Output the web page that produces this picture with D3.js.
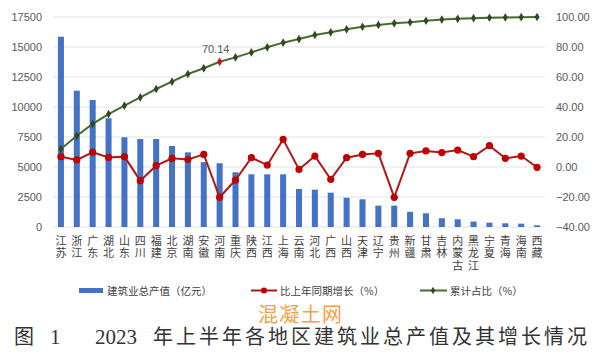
<!DOCTYPE html>
<html><head><meta charset="utf-8">
<script src="https://cdn.jsdelivr.net/npm/d3@7"></script>
<style>
html,body{margin:0;padding:0;background:#fff;}
svg{display:block;}
</style></head>
<body>
<svg id="c" width="600" height="355"></svg>
<script>
const provinces = ["江苏","浙江","广东","湖北","山东","四川","福建","北京","湖南","安徽","河南","重庆","陕西","江西","上海","云南","河北","广西","山西","天津","辽宁","贵州","新疆","甘肃","吉林","内蒙古","黑龙江","宁夏","青海","海南","西藏"];
const outputValues = [15860,11360,10580,9060,7480,7330,7330,6750,6220,5400,5310,4560,4390,4390,4390,3170,3110,2860,2440,2310,1780,1780,1270,1140,730,640,450,360,310,280,140];
const growthValues = [6.9,4.7,9.8,6.4,6.9,-9.1,0.9,5.8,5.0,8.4,-20.2,-8.7,6.2,1.3,18.4,-1.6,7.3,-8.2,6.2,8.4,9.1,-20.2,9.1,10.7,9.6,11.3,6.9,14.2,5.8,7.3,-0.2];
const shareValues = [12.0,20.8,28.7,35.3,40.9,46.4,52.0,56.9,62.0,65.8,70.14,73.1,76.4,79.8,82.9,85.3,88.0,89.8,91.8,93.5,94.7,95.8,96.5,97.5,98.3,98.8,99.2,99.5,99.7,99.9,100.0];
const leftTicks = [0,2500,5000,7500,10000,12500,15000,17500];
const rightTicks = [-40,-20,0,20,40,60,80,100];
const highlightProvince = "河南";
const legendLabels = ["建筑业总产值（亿元）","比上年同期增长（%）","累计占比（%）"];
const watermark = "混凝土网";
const titleParts = ["图","1","2023","年上半年各地区建筑业总产值及其增长情况"];

const svg = d3.select("#c");
const L = 53, R = 545, T = 17, B = 227;
const x = d3.scaleBand().domain(provinces).range([L,R]).paddingInner(0.62).paddingOuter(0.31);
const yL = d3.scaleLinear().domain([0,17500]).range([B,T]);
const yR = d3.scaleLinear().domain([-40,100]).range([B,T]);
const cx = d => x(d) + x.bandwidth()/2;

const numFont = "'Liberation Sans', Arial, sans-serif";
const cjk = "'Noto Sans CJK SC', sans-serif";

// gridlines
svg.append("g").selectAll("line").data(leftTicks).join("line")
  .attr("x1",L).attr("x2",R).attr("y1",d=>yL(d)).attr("y2",d=>yL(d))
  .attr("stroke","#e3e3e3").attr("stroke-width",1);

// left axis
const gl = svg.append("g").attr("transform",`translate(${L},0)`)
  .call(d3.axisLeft(yL).tickValues(leftTicks).tickFormat(d3.format("d")).tickSize(0).tickPadding(11));
gl.select(".domain").remove();
gl.selectAll("text").attr("font-family",numFont).attr("font-size",11).attr("fill","#595959");

// right axis
const gr = svg.append("g").attr("transform",`translate(${R},0)`)
  .call(d3.axisRight(yR).tickValues(rightTicks).tickFormat(d3.format(".2f")).tickSize(0).tickPadding(11));
gr.select(".domain").remove();
gr.selectAll("text").attr("font-family",numFont).attr("font-size",11).attr("fill","#595959");

// bars
svg.append("g").selectAll("rect").data(provinces).join("rect")
  .attr("x",d=>x(d)).attr("width",x.bandwidth())
  .attr("y",(d,i)=>yL(outputValues[i])).attr("height",(d,i)=>yL(0)-yL(outputValues[i]))
  .attr("fill","#4472C4");

// category labels (vertical stacked characters)
const gx = svg.append("g").attr("transform",`translate(0,${B})`)
  .call(d3.axisBottom(x).tickSize(0).tickFormat(""));
gx.select(".domain").remove();
gx.selectAll(".tick").append("text")
  .attr("x",0).attr("y",8)
  .attr("fill","#404040").attr("font-family",cjk).attr("font-size",11)
  .attr("text-anchor","start")
  .style("writing-mode","vertical-rl").style("letter-spacing","1.5px")
  .text(d=>d);

// growth line
const lineG = d3.line().x((d,i)=>cx(provinces[i])).y(d=>yR(d));
svg.append("path").datum(growthValues).attr("d",lineG)
  .attr("fill","none").attr("stroke","#B01818").attr("stroke-width",2);
svg.append("g").selectAll("circle").data(growthValues).join("circle")
  .attr("cx",(d,i)=>cx(provinces[i])).attr("cy",d=>yR(d)).attr("r",3.6)
  .attr("fill","#C00000");

// cumulative share line
svg.append("path").datum(shareValues).attr("d",lineG)
  .attr("fill","none").attr("stroke","#476B33").attr("stroke-width",2);
const diamond = d3.symbol().type(d3.symbolDiamond).size(22);
svg.append("g").selectAll("path").data(shareValues).join("path")
  .attr("d",diamond)
  .attr("transform",(d,i)=>`translate(${cx(provinces[i])},${yR(d)})`)
  .attr("fill",(d,i)=>provinces[i]===highlightProvince?"#D01010":"#2E4A1E");

// data label
const hi = provinces.indexOf(highlightProvince);
svg.append("text").attr("x",cx(highlightProvince)-4).attr("y",yR(shareValues[hi])-9)
  .attr("text-anchor","middle").attr("font-family",numFont).attr("font-size",11)
  .attr("fill","#595959").text(d3.format(".2f")(shareValues[hi]));

// legend
const lg = svg.append("g").attr("font-family",cjk).attr("font-size",10.5).attr("fill","#404040");
lg.append("rect").attr("x",79).attr("y",288).attr("width",24).attr("height",5).attr("fill","#4472C4");
lg.append("text").attr("x",107).attr("y",294.5).text(legendLabels[0]);
lg.append("line").attr("x1",251).attr("x2",277).attr("y1",290.5).attr("y2",290.5).attr("stroke","#B01818").attr("stroke-width",2);
lg.append("circle").attr("cx",264).attr("cy",290.5).attr("r",3).attr("fill","#C00000");
lg.append("text").attr("x",280).attr("y",294.5).text(legendLabels[1]);
lg.append("line").attr("x1",420).attr("x2",447).attr("y1",290.5).attr("y2",290.5).attr("stroke","#476B33").attr("stroke-width",2);
lg.append("path").attr("d",d3.symbol().type(d3.symbolDiamond).size(16)).attr("transform","translate(433,290.5)").attr("fill","#2E4A1E");
lg.append("text").attr("x",450).attr("y",294.5).text(legendLabels[2]);

// watermark
svg.append("text").attr("x",258).attr("y",322).attr("font-family",cjk).attr("font-size",20)
  .attr("fill","#F5A04A").attr("textLength",84).attr("lengthAdjust","spacing").text(watermark);

// title
const tf = "'Liberation Serif','Noto Sans CJK SC',serif";
svg.append("text").attr("x",14).attr("y",344).attr("font-family",cjk).attr("font-size",20).attr("fill","#333").text(titleParts[0]);
svg.append("text").attr("x",50).attr("y",344).attr("font-family",tf).attr("font-size",21).attr("fill","#333").text(titleParts[1]);
svg.append("text").attr("x",95).attr("y",344).attr("font-family",tf).attr("font-size",21).attr("fill","#333").text(titleParts[2]);
svg.append("text").attr("x",153).attr("y",344).attr("font-family",cjk).attr("font-size",20).attr("fill","#333")
  .attr("textLength",434).attr("lengthAdjust","spacing").text(titleParts[3]);
</script>
</body></html>
